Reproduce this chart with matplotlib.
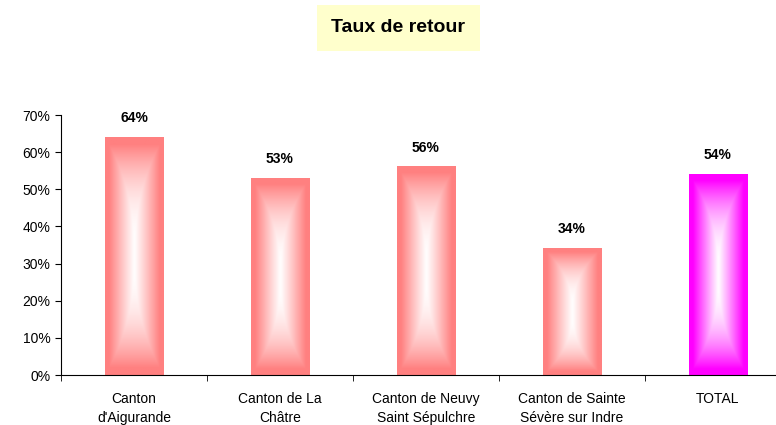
import numpy as np
import matplotlib
matplotlib.use("Agg")
import matplotlib.pyplot as plt
from matplotlib.colors import to_rgb
from matplotlib.ticker import FuncFormatter, MultipleLocator

plt.rcParams['font.family'] = ['Liberation Sans', 'DejaVu Sans']

# Taux de retour par canton
cantons = ["Canton\nd'Aigurande", "Canton de La\nChâtre", "Canton de Neuvy\nSaint Sépulchre",
           "Canton de Sainte\nSévère sur Indre", "TOTAL"]
taux = [0.64, 0.53, 0.56, 0.34, 0.54]
couleurs = ["#FF8080", "#FF8080", "#FF8080", "#FF8080", "#FF00FF"]

fig = plt.figure(figsize=(7.76, 4.25), dpi=100)
ax = fig.add_axes([0.0786, 0.1176, 0.9404, 0.6118])

largeur = 0.4
x = np.arange(len(cantons))

# degrade rectangulaire : blanc au centre, couleur sur les bords
u = np.linspace(-1, 1, 60)
v = np.linspace(-1, 1, 200)
U, V = np.meshgrid(u, v)
t = np.maximum(np.abs(U) ** 1.05, np.abs(V) ** 2.4)
t = np.clip(t * 1.15, 0, 1)

for xi, val, c in zip(x, taux, couleurs):
    rgb = np.array(to_rgb(c))
    img = (1 - t)[..., None] * np.ones(3) + t[..., None] * rgb
    ax.imshow(img, extent=(xi - largeur / 2, xi + largeur / 2, 0, val),
              aspect='auto', interpolation='bilinear', zorder=2)
    ax.annotate(f"{round(val * 100)}%", (xi, val), xytext=(0, 9),
                textcoords='offset points', ha='center', va='bottom',
                fontsize=10, fontweight='bold')

ax.set_xlim(-0.5, len(cantons) - 0.5)
ax.set_ylim(0, 0.70)
ax.yaxis.set_major_locator(MultipleLocator(0.10))
ax.yaxis.set_major_formatter(FuncFormatter(lambda y, _: f"{round(y * 100)}%"))

ax.set_xticks(x)
ax.set_xticklabels(cantons, fontsize=10, linespacing=1.5)
ax.set_xticks(np.arange(len(cantons) + 1) - 0.5, minor=True)
ax.tick_params(axis='x', which='major', length=0, pad=12)
ax.tick_params(axis='x', which='minor', length=4, direction='out')
ax.tick_params(axis='y', length=4, direction='out', labelsize=10)

for s in ['top', 'right']:
    ax.spines[s].set_visible(False)

fig.text(0.513, 0.935, "Taux de retour", ha='center', va='center',
         fontsize=14, fontweight='bold',
         bbox=dict(boxstyle='square,pad=0.75', fc='#FFFFCC', ec='none'))

fig.savefig("out.png", dpi=100)
